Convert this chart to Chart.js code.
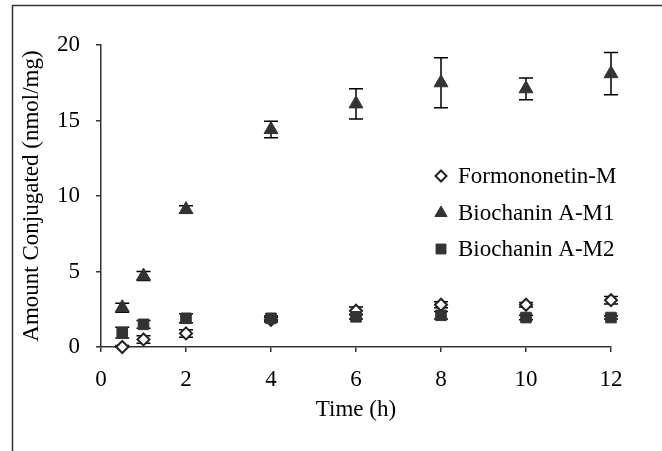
<!DOCTYPE html>
<html>
<head>
<meta charset="utf-8">
<script src="https://cdn.jsdelivr.net/npm/chart.js@4"></script>
<style>
html,body{margin:0;padding:0;background:#fff;overflow:hidden;}
#wrap{width:662px;height:451px;position:relative;}
</style>
</head>
<body>
<div id="wrap"><canvas id="c" width="662" height="451"></canvas></div>
<script>
// ---- data ----
const timeH = [0.5, 1, 2, 4, 6, 8, 10, 12];
const formononetinM    = [0.0, 0.5, 0.9, 1.8, 2.4, 2.8, 2.8, 3.1];
const formononetinMErr = [0.1, 0.25, 0.25, 0.15, 0.25, 0.2, 0.15, 0.25];
const biochaninM1      = [2.6, 4.7, 9.1, 14.4, 16.1, 17.5, 17.1, 18.1];
const biochaninM1Err   = [0.3, 0.3, 0.25, 0.55, 1.0, 1.65, 0.72, 1.4];
const biochaninM2      = [0.95, 1.5, 1.9, 1.9, 2.0, 2.1, 1.95, 1.95];
const biochaninM2Err   = [0.35, 0.25, 0.3, 0.15, 0.15, 0.25, 0.15, 0.1];
const seriesLabels = ['Formononetin-M', 'Biochanin A-M1', 'Biochanin A-M2'];
const xTickValues = [0, 2, 4, 6, 8, 10, 12];
const yTickValues = [0, 5, 10, 15, 20];
const xTitle = 'Time (h)';
const yTitle = 'Amount Conjugated (nmol/mg)';

const FONT = "'Liberation Serif', 'Times New Roman', serif";
const FS = 23;

function pts(ys) { return timeH.map((x, i) => ({x: x, y: ys[i]})); }

const frame = {
  id: 'frame',
  beforeDraw(chart) {
    const ctx = chart.ctx;
    ctx.save();
    ctx.strokeStyle = '#333';
    ctx.lineWidth = 1.5;
    ctx.strokeRect(12.5, 5.5, 700, 500);
    ctx.restore();
  }
};

const errorBars = {
  id: 'errorBars',
  beforeDatasetsDraw(chart) {
    const ctx = chart.ctx;
    const xs = chart.scales.x, ys = chart.scales.y;
    ctx.save();
    ctx.strokeStyle = '#000';
    ctx.lineWidth = 1.5;
    chart.data.datasets.forEach(ds => {
      ds.data.forEach((p, i) => {
        const e = ds.errors[i];
        const px = xs.getPixelForValue(p.x);
        const top = ys.getPixelForValue(p.y + e);
        const bot = ys.getPixelForValue(Math.max(p.y - e, 0));
        ctx.beginPath();
        ctx.moveTo(px, top); ctx.lineTo(px, bot);
        ctx.moveTo(px - 7, top); ctx.lineTo(px + 7, top);
        ctx.moveTo(px - 7, bot); ctx.lineTo(px + 7, bot);
        ctx.stroke();
      });
    });
    ctx.restore();
  }
};

const legendInside = {
  id: 'legendInside',
  afterDraw(chart) {
    const ctx = chart.ctx;
    const mx = 441, tx = 458, rows = [176, 213, 249];
    ctx.save();
    ctx.font = FS + 'px ' + FONT;
    ctx.textBaseline = 'middle';
    ctx.textAlign = 'left';
    chart.data.datasets.forEach((ds, i) => {
      const y = rows[i];
      ctx.fillStyle = ds.pointBackgroundColor;
      ctx.strokeStyle = ds.pointBorderColor;
      ctx.lineWidth = ds.pointBorderWidth;
      Chart.helpers.drawPoint(ctx, {pointStyle: ds.pointStyle, rotation: 0, radius: ds.legendRadius, borderWidth: ds.pointBorderWidth}, mx, y);
      ctx.fillStyle = '#000';
      ctx.fillText(ds.label, tx, y + 1);
    });
    ctx.restore();
  }
};

new Chart(document.getElementById('c'), {
  type: 'scatter',
  data: {
    datasets: [
      { label: seriesLabels[0], data: pts(formononetinM), errors: formononetinMErr,
        pointStyle: 'rectRot', pointRadius: 6, legendRadius: 5.5, pointBackgroundColor: '#fff',
        pointBorderColor: '#222', pointBorderWidth: 2, order: 2, clip: false },
      { label: seriesLabels[1], data: pts(biochaninM1), errors: biochaninM1Err,
        pointStyle: 'triangle', pointRadius: 8, legendRadius: 7, pointBackgroundColor: '#333',
        pointBorderColor: '#333', pointBorderWidth: 1, order: 1, clip: false },
      { label: seriesLabels[2], data: pts(biochaninM2), errors: biochaninM2Err,
        pointStyle: 'rect', pointRadius: 7.5, legendRadius: 7, pointBackgroundColor: '#333',
        pointBorderColor: '#333', pointBorderWidth: 1, order: 0, clip: false }
    ]
  },
  options: {
    responsive: false,
    animation: false,
    devicePixelRatio: 1,
    layout: { padding: { left: 0, top: 45, right: 51, bottom: 0 } },
    plugins: { legend: { display: false }, tooltip: { enabled: false } },
    scales: {
      x: {
        type: 'linear', min: 0, max: 12,
        afterFit(s) { s.height = 104; },
        afterBuildTicks(s) { s.ticks = xTickValues.map(v => ({value: v})); },
        border: { color: '#333', width: 1.5 },
        grid: { drawOnChartArea: false, tickLength: 5, color: '#333', lineWidth: 1.5 },
        ticks: { color: '#000', padding: 14, font: { family: FONT, size: FS } },
        title: { display: true, text: xTitle, color: '#000', font: { family: FONT, size: FS },
                 padding: { top: 0, bottom: 27 } }
      },
      y: {
        min: 0, max: 20,
        afterFit(s) { s.width = 101; },
        afterBuildTicks(s) { s.ticks = yTickValues.map(v => ({value: v})); },
        border: { color: '#333', width: 1.5 },
        grid: { drawOnChartArea: false, tickLength: 5, color: '#333', lineWidth: 1.5 },
        ticks: { color: '#000', padding: 16, font: { family: FONT, size: FS } },
        title: { display: true, text: yTitle, color: '#000', font: { family: FONT, size: FS },
                 padding: { top: 18, bottom: 0 } }
      }
    }
  },
  plugins: [frame, errorBars, legendInside]
});
</script>
</body>
</html>
